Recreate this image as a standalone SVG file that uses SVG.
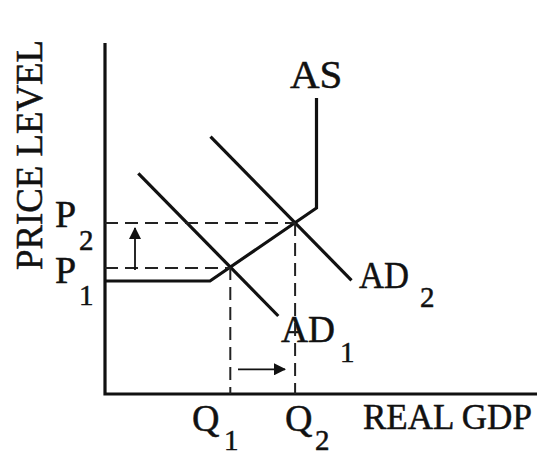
<svg xmlns="http://www.w3.org/2000/svg" width="541" height="456" viewBox="0 0 541 456">
<style>
text{font-family:"Liberation Serif","Times New Roman",serif;fill:#111;stroke:#111;stroke-width:0.5}
.m{font-size:38px}
.s{font-size:29px}
.ax{stroke:#111;stroke-width:3.2;fill:none}
.cv{stroke:#111;stroke-width:3.2;fill:none;stroke-linejoin:miter}
.d{stroke:#222;stroke-width:2;stroke-dasharray:13 7;fill:none}
.ar{stroke:#111;stroke-width:1.8;fill:none}
</style>
<defs>
<marker id="ah" markerWidth="12" markerHeight="12" refX="11" refY="6" orient="auto" markerUnits="userSpaceOnUse" viewBox="0 0 12 12">
<path d="M0,0 L12,6 L0,12 Z" fill="#111"/>
</marker>
</defs>
<rect width="541" height="456" fill="#fff"/>
<g id="axes">
<path class="ax" d="M105,43 V394 H537"/>
<text class="m" transform="translate(42,270) rotate(-90)" textLength="230" lengthAdjust="spacingAndGlyphs">PRICE LEVEL</text>
<text x="363" y="429" style="font-size:35px">REAL GDP</text>
</g>
<g id="AS">
<path class="cv" d="M105,281 H210 L316.5,208 V98"/>
<text x="290" y="88" style="font-size:41px">AS</text>
</g>
<g id="AD1">
<path class="cv" d="M138.3,173.3 L278.3,316"/>
<text x="281" y="342" class="m" textLength="54" lengthAdjust="spacingAndGlyphs">AD</text>
<text x="340" y="362" class="s">1</text>
</g>
<g id="AD2">
<path class="cv" d="M210.5,136.7 L351.5,280.3"/>
<text x="359" y="288" class="m" textLength="50" lengthAdjust="spacingAndGlyphs">AD</text>
<text x="420" y="307" class="s">2</text>
</g>
<g id="connectors">
<path class="d" d="M105,223 H295"/>
<path class="d" d="M105,268 H230"/>
<path class="d" d="M230.3,267 V394"/>
<path class="d" d="M295.1,223 V394"/>
<path class="ar" d="M135,270 V228" marker-end="url(#ah)"/>
<path class="ar" d="M238,369.3 H285" marker-end="url(#ah)"/>
</g>
<g id="labels">
<text x="55" y="227" class="m">P</text>
<text x="79" y="250" class="s">2</text>
<text x="55" y="283" class="m">P</text>
<text x="79" y="305" class="s">1</text>
<text x="192" y="431" class="m">Q</text>
<text x="224" y="450" class="s">1</text>
<text x="285" y="431" class="m">Q</text>
<text x="315" y="450" class="s">2</text>
</g>
</svg>
